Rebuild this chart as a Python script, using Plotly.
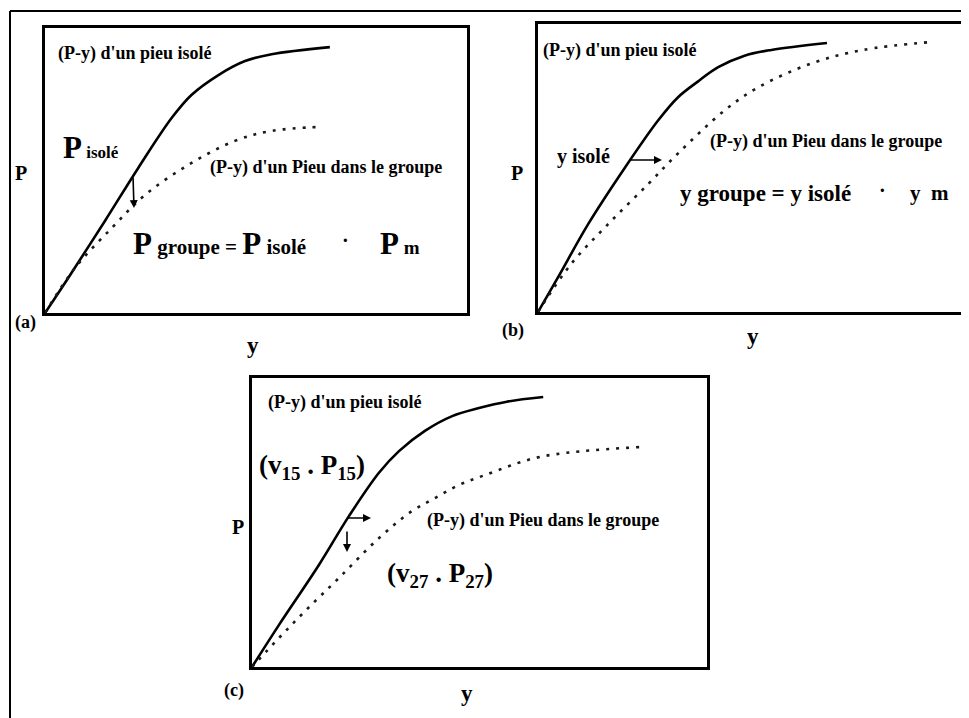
import plotly.graph_objects as go

# P-y curves, x and y as fractions of each panel box
a_iso_x = [0, 0.055, 0.142, 0.221, 0.300, 0.347, 0.411, 0.474, 0.537, 0.675]
a_iso_y = [0, 0.123, 0.323, 0.509, 0.684, 0.765, 0.835, 0.884, 0.908, 0.933]
a_grp_x = [0, 0.071, 0.158, 0.237, 0.339, 0.450, 0.537, 0.652]
a_grp_y = [0, 0.158, 0.298, 0.414, 0.519, 0.604, 0.639, 0.653]

b_iso_x = [0, 0.047, 0.118, 0.204, 0.282, 0.329, 0.376, 0.424, 0.486, 0.549, 0.68]
b_iso_y = [0, 0.12, 0.305, 0.50, 0.664, 0.745, 0.80, 0.85, 0.89, 0.91, 0.934]
b_grp_x = [0, 0.078, 0.165, 0.259, 0.329, 0.439, 0.518, 0.647, 0.765, 0.929]
b_grp_y = [0, 0.167, 0.305, 0.444, 0.55, 0.70, 0.78, 0.865, 0.910, 0.938]

c_iso_x = [0, 0.059, 0.147, 0.213, 0.279, 0.323, 0.380, 0.440, 0.499, 0.560, 0.640]
c_iso_y = [0, 0.145, 0.353, 0.522, 0.672, 0.747, 0.817, 0.868, 0.896, 0.918, 0.934]
c_grp_x = [0, 0.059, 0.117, 0.191, 0.279, 0.352, 0.403, 0.455, 0.512, 0.633, 0.853]
c_grp_y = [0, 0.10, 0.194, 0.308, 0.446, 0.54, 0.585, 0.63, 0.664, 0.727, 0.761]

# the page body has an 8px margin, so the figure is shifted by it
OFF = 8
W, H = 969 - OFF, 718 - OFF
FONT = 'Liberation Serif'


def px(x):
    return (x - OFF) / W


def py(y):
    return 1 - (y - OFF) / H


fig = go.Figure()

panels = [
    ('', (45, 467), (28, 313), a_iso_x, a_iso_y, a_grp_x, a_grp_y),
    ('2', (538, 963), (24, 312), b_iso_x, b_iso_y, b_grp_x, b_grp_y),
    ('3', (252, 707), (378, 667), c_iso_x, c_iso_y, c_grp_x, c_grp_y),
]

for sfx, (x0, x1), (y0, y1), ix, iy, gx, gy in panels:
    fig.add_trace(go.Scatter(x=ix, y=iy, mode='lines',
                             line=dict(color='black', width=2.6, shape='spline', smoothing=1.0),
                             xaxis='x' + sfx, yaxis='y' + sfx, showlegend=False, hoverinfo='skip'))
    fig.add_trace(go.Scatter(x=gx, y=gy, mode='lines',
                             line=dict(color='#1a1a1a', width=2.6, shape='spline', smoothing=1.0, dash='3px,7px'),
                             xaxis='x' + sfx, yaxis='y' + sfx, showlegend=False, hoverinfo='skip'))
    ax = dict(domain=[px(x0), px(x1)], range=[0, 1], showgrid=False, zeroline=False, showticklabels=False,
              ticks='', showline=True, linecolor='black', linewidth=2.5, mirror=True, fixedrange=True)
    ay = dict(domain=[py(y1), py(y0)], range=[0, 1], showgrid=False, zeroline=False, showticklabels=False,
              ticks='', showline=True, linecolor='black', linewidth=2.5, mirror=True, fixedrange=True)
    ax['anchor'] = 'y' + sfx
    ay['anchor'] = 'x' + sfx
    fig.update_layout(**{'xaxis' + sfx: ax, 'yaxis' + sfx: ay})


def txt(x, y, s, size, anchor='left'):
    fig.add_annotation(x=px(x), y=py(y), xref='paper', yref='paper', text='<b>%s</b>' % s, showarrow=False,
                       xanchor=anchor, yanchor='middle', font=dict(family=FONT, size=size, color='black'))


def big(s, size=31):
    return "<span style='font-size:%dpx'>%s</span>" % (size, s)


# panel (a)
txt(56, 53, "(P-y) d'un pieu isolé", 18)
txt(61, 148, big('P') + " isolé", 17)
txt(208, 167, "(P-y) d'un Pieu dans le groupe", 18)
txt(131, 243, big('P') + " groupe = " + big('P') + " isolé", 21)
txt(345, 240, "·", 20, 'center')
txt(378, 243, big('P') + " m", 19)
txt(21, 173, "P", 20, 'center')
txt(253, 345, "y", 23, 'center')
txt(13, 322, "(a)", 18)

# panel (b)
txt(541, 50, "(P-y) d'un pieu isolé", 18)
txt(708, 142, "(P-y) d'un Pieu dans le groupe", 18)
txt(555, 157, "y isolé", 20)
txt(678, 193, "y groupe = y isolé", 23)
txt(882, 190, "·", 20, 'center')
txt(908, 193, "y  m", 21)
txt(517, 173, "P", 20, 'center')
txt(753, 336, "y", 23, 'center')
txt(500, 330, "(b)", 18)

# panel (c)
txt(266, 402, "(P-y) d'un pieu isolé", 18)
txt(257, 467, "(v<sub>15</sub> . P<sub>15</sub>)", 27)
txt(425, 520, "(P-y) d'un Pieu dans le groupe", 18)
txt(385, 575, "(v<sub>27</sub> . P<sub>27</sub>)", 27)
txt(238, 527, "P", 20, 'center')
txt(467, 693, "y", 23, 'center')
txt(222, 690, "(c)", 18)


def arrow(x0, y0, x1, y1):
    fig.add_annotation(x=px(x1), y=py(y1), ax=x0 - x1, ay=y0 - y1, xref='paper', yref='paper',
                       axref='pixel', ayref='pixel', text='', showarrow=True, arrowhead=2,
                       arrowsize=1, arrowwidth=1.6, arrowcolor='black')


arrow(133, 176, 134, 208)
arrow(628, 160, 662, 160)
arrow(346, 518, 371, 518)
arrow(347, 530, 347, 552)

# outer frame of the figure
fig.add_shape(type='line', xref='paper', yref='paper', x0=px(10), x1=1, y0=py(11), y1=py(11),
              line=dict(color='black', width=2))
fig.add_shape(type='line', xref='paper', yref='paper', x0=px(10), x1=px(10), y0=py(11), y1=0,
              line=dict(color='black', width=2))

fig.update_layout(width=W, height=H, margin=dict(l=0, r=0, t=0, b=0),
                  paper_bgcolor='white', plot_bgcolor='white')
fig.write_html('out.html')
